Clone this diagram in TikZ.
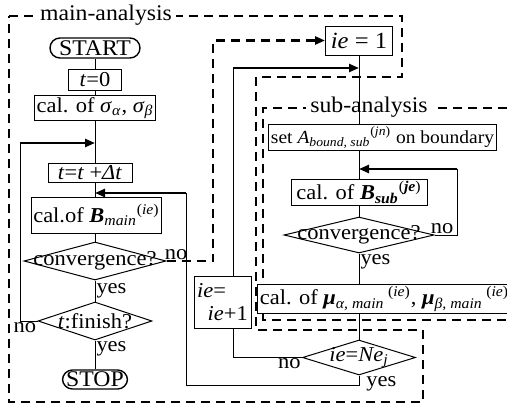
\documentclass[tikz,border=0pt]{standalone}
\usepackage{fontspec}
\setmainfont{Liberation Serif}[FakeStretch = 1.06]
\usetikzlibrary{arrows.meta}
\usetikzlibrary{shapes}

\begin{document}
\begin{tikzpicture}[x = 0.5pt, y = -0.5pt]
	\tikzstyle{procStyle} = [draw, fill = white, line width = 0.5pt, inner sep = 1pt, font = \fontsize{10.6}{11}\selectfont]
	\tikzstyle{termStyle} = [draw, fill = white, line width = 0.7pt, rounded corners = 5pt, inner sep = 1pt, font = \fontsize{11.2}{12}\selectfont]
	\tikzstyle{decStyle} = [shape = diamond, draw, fill = white, line width = 0.5pt, inner sep = 0pt]
	\tikzstyle{tagStyle} = [inner sep = 0.5pt, font = \fontsize{10.6}{11}\selectfont]
	\tikzstyle{groupTagStyle} = [fill = white, inner sep = 2pt, font = \fontsize{11.2}{12}\selectfont]
	\tikzstyle{lineStyle} = [line width = 0.5pt]
	\tikzstyle{backStyle} = [line width = 1.2pt, -{Triangle[length = 5pt, width = 4pt]}]
	\tikzstyle{groupStyle} = [line width = 1.4pt, dash pattern = on 4.5pt off 3pt]
	\useasboundingbox (0,0) rectangle (507,407);
	\draw[groupStyle] (9,16) -- (402,16) -- (402,77) -- (256,77) -- (256,330) -- (423,330) -- (423,402) -- (9,402) -- cycle;
	\draw[groupStyle] (507,108) -- (263,108) -- (263,320) -- (507,320);
	\node[groupTagStyle] (mainTag) at (106,15) {main-analysis};
	\node[groupTagStyle] (subTag) at (369,107) {sub-analysis};
	\node[termStyle, minimum width = 45pt, minimum height = 10pt] (start) at (95,48) {START};
	\node[procStyle, minimum width = 26.5pt, minimum height = 10.5pt] (t0) at (95,79.5) {\textit{t}=0};
	\node[procStyle, minimum width = 55.5pt, minimum height = 11pt] (sigma) at (95,108) {cal. of \textit{σ}\textsubscript{\textit{α}}, \textit{σ}\textsubscript{\textit{β}}};
	\node[procStyle, minimum width = 42pt, minimum height = 9.5pt] (tinc) at (90,172.5) {\textit{t}=\textit{t} +\textit{Δt}};
	\node[procStyle, minimum width = 60.5pt, minimum height = 18pt] (bmain) at (96.5,215) {cal.of \textbf{\textit{B}}\textsubscript{\textit{main}}\textsuperscript{(\textit{ie})}};
	\node[decStyle, minimum width = 71pt, minimum height = 19pt, label = {[tagStyle]center:convergence?}] (conv1) at (95,261) {};
	\node[decStyle, minimum width = 57pt, minimum height = 19pt, label = {[tagStyle]center:\textit{t}:finish?}] (tfin) at (95,321) {};
	\node[termStyle, minimum width = 32.5pt, minimum height = 9.5pt] (stop) at (95,379.5) {STOP};
	\node[procStyle, minimum width = 33.5pt, minimum height = 14.5pt, font = \fontsize{11.6}{12}\selectfont] (ie1) at (359,40.5) {\textit{ie} = 1};
	\node[procStyle, minimum width = 107.5pt, minimum height = 9.5pt, font = \fontsize{9.2}{10}\selectfont] (setA) at (382.5,137.5) {set \textit{A}\textsubscript{\textit{bound, sub}}\textsuperscript{(\textit{jn})} on boundary};
	\node[procStyle, minimum width = 68pt, minimum height = 12.5pt] (bsub) at (359,192.5) {cal. of \textbf{\textit{B}}\textsubscript{\textbf{\textit{sub}}}\textsuperscript{(\textbf{\textit{je}})}};
	\node[decStyle, minimum width = 75pt, minimum height = 18pt, label = {[tagStyle]center:convergence?}] (conv2) at (359,235) {};
	\node[procStyle, minimum width = 117.5pt, minimum height = 14pt] (mu) at (384.5,299) {cal. of \textbf{\textit{μ}}\textsubscript{\textit{α, main}}\,\textsuperscript{(\textit{ie})}, \textbf{\textit{μ}}\textsubscript{\textit{β, main}}\,\textsuperscript{(\textit{ie})}};
	\node[decStyle, minimum width = 56.5pt, minimum height = 17.5pt, label = {[tagStyle]center:\textit{ie}=\textit{Ne}\textsubscript{\textit{j}}}] (iene) at (359,357.5) {};
	\node[procStyle, minimum width = 28.5pt, minimum height = 26pt, align = left, font = \fontsize{10.6}{11.5}\selectfont] (ieinc) at (222.5,302) {\textit{ie}=\\\hspace{0.5em}\textit{ie}+1};
	\coordinate (tJoin) at (95,143);
	\coordinate (tCorner) at (20,143);
	\coordinate (bJoin) at (95,193);
	\coordinate (bCorner) at (186,193);
	\coordinate (ieJoin) at (359,68);
	\coordinate (ieCorner) at (233,68);
	\coordinate (subJoin) at (359,169);
	\coordinate (subCorner) at (457,169);
	\coordinate (noCorner) at (213,40.5);
	\draw[lineStyle] (start) -- (t0);
	\draw[lineStyle] (t0) -- (sigma);
	\draw[lineStyle] (sigma) -- (sigma |- tinc.north);
	\draw[lineStyle] (tinc.south -| sigma) -- (bmain.north -| sigma);
	\draw[lineStyle] (bmain.south -| sigma) -- (conv1);
	\draw[lineStyle] (conv1) -- (tfin) node[tagStyle, midway, right] {yes};
	\draw[lineStyle] (tfin) -- (stop) node[tagStyle, pos = 0.3, right] {yes};
	\draw[lineStyle] (tfin.west) -| (tCorner) node[tagStyle, pos = 0, below left] {no};
	\draw[backStyle] (tCorner) -- (tJoin);
	\draw[groupStyle, -{Triangle[length = 5pt, width = 4pt]}] (conv1.east) -| (noCorner) -- (ie1.west);
	\node[tagStyle, anchor = south west, xshift = -1.5pt] (noMain) at (conv1.east) {no};
	\draw[lineStyle] (ie1) -- (ie1 |- setA.north);
	\draw[lineStyle] (setA.south -| ie1) -- (bsub);
	\draw[lineStyle] (bsub) -- (conv2);
	\draw[lineStyle] (conv2) -- (conv2 |- mu.north) node[tagStyle, pos = 0, below right] {yes};
	\draw[lineStyle] (conv2.east) -| (subCorner);
	\node[tagStyle, anchor = south west, xshift = -2.5pt] (noSub) at (conv2.east) {no};
	\draw[backStyle] (subCorner) -- (subJoin);
	\draw[lineStyle] (mu.south -| iene) -- (iene);
	\draw[lineStyle] (iene.west) -| (ieinc.south -| ieCorner) node[tagStyle, pos = 0, below left] {no};
	\draw[lineStyle] (ieinc.north -| ieCorner) -- (ieCorner);
	\draw[backStyle] (ieCorner) -- (ieJoin);
	\draw[lineStyle] (iene.south) -- ++(0,10) -| (bCorner);
	\node[tagStyle, anchor = north west, xshift = 3pt] (yesNe) at (iene.south) {yes};
	\draw[backStyle] (bCorner) -- (bJoin);
\end{tikzpicture}
\end{document}
